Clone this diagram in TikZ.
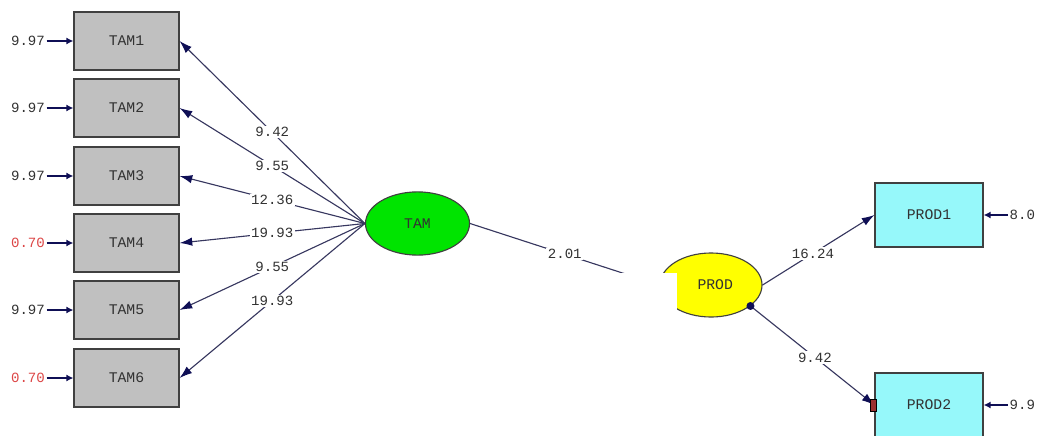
\documentclass[tikz,border=0pt]{standalone}
\usepackage{fontspec}
\setmonofont{Liberation Mono}
\usepackage{tikz}
\usetikzlibrary{arrows.meta, shapes.geometric}
\definecolor{pathblue}{RGB}{55,55,95}
\definecolor{tipblue}{RGB}{15,15,85}
\definecolor{boxgray}{RGB}{192,192,192}
\definecolor{latgreen}{RGB}{0,228,0}
\definecolor{latyellow}{RGB}{255,255,0}
\definecolor{obscyan}{RGB}{150,248,250}
\definecolor{errred}{RGB}{220,70,70}
\definecolor{labgray}{RGB}{50,50,50}

\begin{document}
\begin{tikzpicture}[x=0.025cm, y=-0.025cm,
  indicator/.style={rectangle, draw=black!75, fill=boxgray, thick, minimum width=2.625cm, minimum height=1.45cm, font=\ttfamily\fontsize{10.5}{12}\selectfont, text=labgray},
  outcome/.style={rectangle, draw=black!75, fill=obscyan, thick, minimum width=2.7cm, minimum height=1.6cm, font=\ttfamily\fontsize{10.5}{12}\selectfont, text=labgray},
  latent/.style={ellipse, draw=black!75, thick, minimum width=2.6cm, minimum height=1.58cm, inner sep=0pt, font=\ttfamily\fontsize{10.5}{12}\selectfont, text=labgray},
  est/.style={fill=white, inner sep=1pt, font=\ttfamily\fontsize{10}{12}\selectfont, text=labgray},
  errval/.style={inner sep=1pt, font=\ttfamily\fontsize{10}{12}\selectfont, text=labgray},
  path/.style={-{Latex[length=9pt, width=6pt, color=tipblue]}, draw=pathblue, line width=0.8pt},
  errarrow/.style={-{Latex[length=5pt, width=5pt]}, draw=tipblue, line width=1.3pt}
]
\clip (0,0) rectangle (1037,435);

% --- TAM indicators ---
\node[indicator] (tam1) at (126.5,41)  {TAM1};
\node[indicator] (tam2) at (126.5,108) {TAM2};
\node[indicator] (tam3) at (126.5,176) {TAM3};
\node[indicator] (tam4) at (126.5,243) {TAM4};
\node[indicator] (tam5) at (126.5,310) {TAM5};
\node[indicator] (tam6) at (126.5,378) {TAM6};

% error terms left
\node[errval] (e1) at (28,41)  {9.97};
\node[errval] (e2) at (28,108) {9.97};
\node[errval] (e3) at (28,176) {9.97};
\node[errval, text=errred] (e4) at (28,243) {0.70};
\node[errval] (e5) at (28,310) {9.97};
\node[errval, text=errred] (e6) at (28,378) {0.70};

% --- latent variables ---
\node[latent, fill=latgreen] (tam) at (417.5,223.5) {TAM};
\node[latent, fill=latyellow, minimum width=2.55cm, minimum height=1.6cm] (prod) at (711,285) {\hspace{6pt}PROD};

% --- PROD indicators ---
\node[outcome] (prod1) at (929,215) {PROD1};
\node[outcome] (prod2) at (929,405) {PROD2};
\node[errval, anchor=west] (e7) at (1008,215) {8.0};
\node[errval, anchor=west] (e8) at (1008,405) {9.9};

% Pfade TAM
\draw[path] (tam.west) -- node[est]{9.42}  (tam1.east);
\draw[path] (tam.west) -- node[est]{9.55}  (tam2.east);
\draw[path] (tam.west) -- node[est]{12.36} (tam3.east);
\draw[path] (tam.west) -- node[est]{19.93} (tam4.east);
\draw[path] (tam.west) -- node[est]{9.55}  (tam5.east);
\draw[path] (tam.west) -- node[est]{19.93} (tam6.east);

\draw[errarrow] (e1.east) -- (tam1.west);
\draw[errarrow] (e2.east) -- (tam2.west);
\draw[errarrow] (e3.east) -- (tam3.west);
\draw[errarrow] (e4.east) -- (tam4.west);
\draw[errarrow] (e5.east) -- (tam5.west);
\draw[errarrow] (e6.east) -- (tam6.west);

% Pfade PROD
\draw[path] (tam.east) -- node[est]{2.01} (prod.west);
\draw[path] (prod.east) -- node[est, pos=0.45]{16.24} (prod1.west);
\draw[path] (prod.-28) -- node[est, pos=0.52]{9.42} (prod2.west);
\draw[errarrow] (e7.west) -- (prod1.east);
\draw[errarrow] (e8.west) -- (prod2.east);

% kleine Marker
\fill[tipblue] (prod.-28) circle (4);
\draw[black, fill=errred!70!black] ([xshift=-1pt]prod2.west) ++(-3,-6) rectangle ++(6,12);

% weisse Abdeckung
\fill[white] (468,273) rectangle (677,345);
\end{tikzpicture}
\end{document}
